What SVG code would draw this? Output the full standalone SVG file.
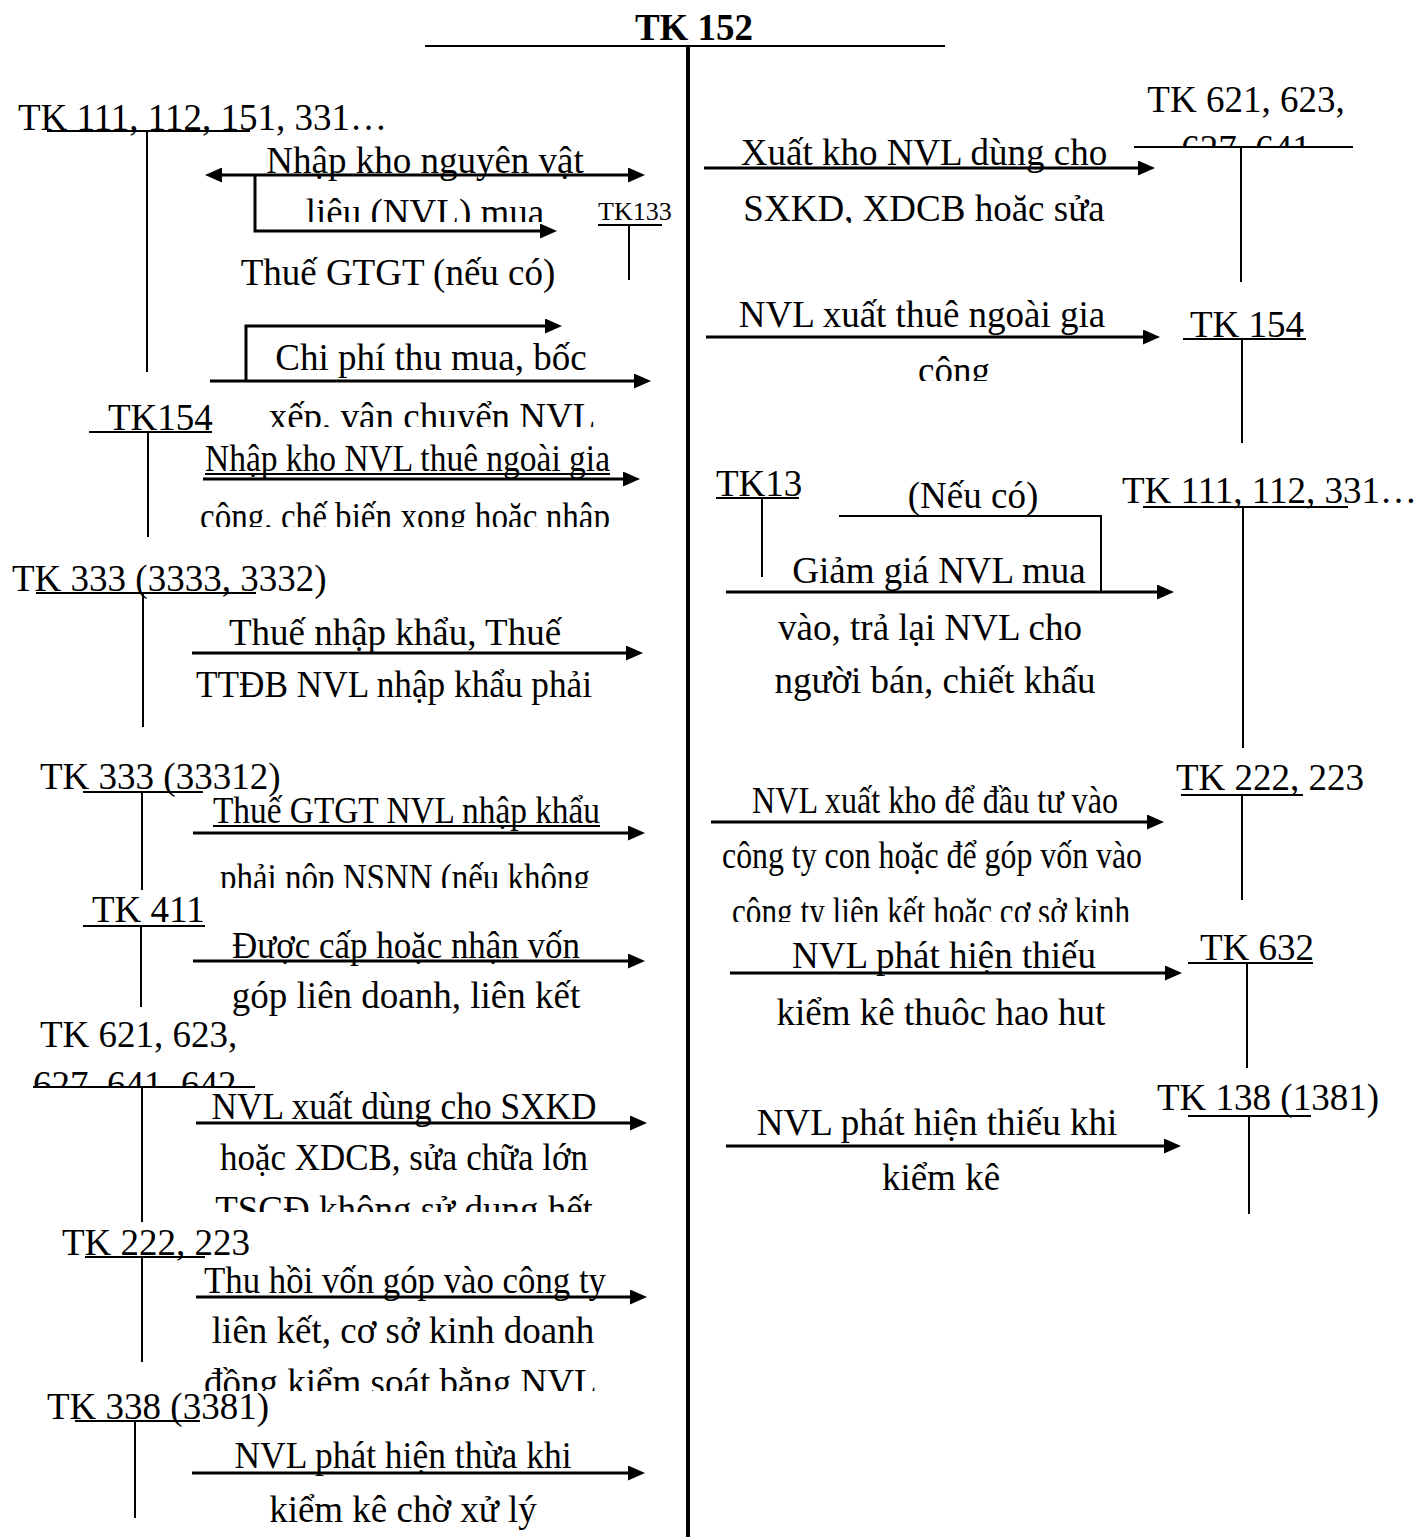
<svg xmlns="http://www.w3.org/2000/svg" width="1419" height="1537" viewBox="0 0 1419 1537">
  <style>
    .t { font-family: "Liberation Serif", "Times New Roman", serif; font-size: 37px; fill: #000; }
    .c { text-anchor: middle; }
    .b { font-weight: bold; }
    .sm { font-size: 26px; }
    .bar { stroke: #000; stroke-width: 2; fill: none; }
    .spine { stroke: #000; stroke-width: 4; fill: none; }
    .arrow { stroke: #000; stroke-width: 3; fill: none; marker-end: url(#ah); }
    .both { marker-start: url(#ah); }
    .thin { stroke: #000; stroke-width: 2; fill: none; }
  </style>
  <defs>
    <marker id="ah" markerUnits="userSpaceOnUse" markerWidth="17" markerHeight="15" refX="3" refY="7.5" orient="auto-start-reverse">
      <path d="M0,0 L17,7.5 L0,15 z" fill="#000"/>
    </marker>
    <!-- text boxes that cut their last line short -->
    <clipPath id="k222"><rect x="0" y="120" width="1419" height="102"/></clipPath>
    <clipPath id="k427"><rect x="0" y="330" width="1419" height="97"/></clipPath>
    <clipPath id="k527"><rect x="0" y="480" width="1419" height="47"/></clipPath>
    <clipPath id="k888"><rect x="0" y="840" width="1419" height="48"/></clipPath>
    <clipPath id="k1087"><rect x="0" y="1055" width="1419" height="32"/></clipPath>
    <clipPath id="k1212"><rect x="0" y="1180" width="1419" height="32"/></clipPath>
    <clipPath id="k1391"><rect x="0" y="1350" width="1419" height="41"/></clipPath>
    <clipPath id="k146"><rect x="0" y="120" width="1419" height="26"/></clipPath>
    <clipPath id="k223"><rect x="0" y="180" width="1419" height="43"/></clipPath>
    <clipPath id="k381"><rect x="0" y="340" width="1419" height="41"/></clipPath>
    <clipPath id="k922"><rect x="0" y="880" width="1419" height="42"/></clipPath>
    <clipPath id="k1027"><rect x="0" y="980" width="1419" height="47"/></clipPath>
  </defs>

  <rect width="1419" height="1537" fill="#fff"/>

  <!-- main account TK 152 -->
  <g id="tk152">
    <text class="t c b" x="694" y="40">TK 152</text>
    <line class="bar" x1="425" y1="46" x2="945" y2="46"/>
    <line class="spine" x1="688" y1="46" x2="688" y2="1537"/>
  </g>

  <!-- debit-side accounts -->
  <g id="tk111-left">
    <text class="t" x="18" y="130">TK 111, 112, 151, 331…</text>
    <line class="bar" x1="47" y1="131" x2="250" y2="131"/>
    <line class="bar" x1="147" y1="131" x2="147" y2="372"/>
  </g>
  <g id="tk133">
    <text class="t sm" x="598" y="220">TK133</text>
    <line class="bar" x1="598" y1="225" x2="662" y2="225"/>
    <line class="bar" x1="629" y1="225" x2="629" y2="280"/>
  </g>
  <g id="tk154-left">
    <text class="t" x="108" y="430">TK154</text>
    <line class="bar" x1="89" y1="432" x2="212" y2="432"/>
    <line class="bar" x1="148" y1="432" x2="148" y2="537"/>
  </g>
  <g id="tk333-a">
    <text class="t" x="12" y="591">TK 333 (3333, 3332)</text>
    <line class="bar" x1="36" y1="593" x2="256" y2="593"/>
    <line class="bar" x1="143" y1="593" x2="143" y2="727"/>
  </g>
  <g id="tk333-b">
    <text class="t" x="40" y="789">TK 333 (33312)</text>
    <line class="bar" x1="83" y1="792" x2="203" y2="792"/>
    <line class="bar" x1="142" y1="792" x2="142" y2="890"/>
  </g>
  <g id="tk411">
    <text class="t" x="92" y="922">TK 411</text>
    <line class="bar" x1="83" y1="926" x2="205" y2="926"/>
    <line class="bar" x1="141" y1="926" x2="141" y2="1007"/>
  </g>
  <g id="tk621-left">
    <text class="t" x="40" y="1047">TK 621, 623,</text>
    <text class="t" x="33" y="1097" clip-path="url(#k1087)">627, 641, 642</text>
    <line class="bar" x1="33" y1="1087" x2="255" y2="1087"/>
    <line class="bar" x1="142" y1="1087" x2="142" y2="1222"/>
  </g>
  <g id="tk222-left">
    <text class="t" x="62" y="1255">TK 222, 223</text>
    <line class="bar" x1="85" y1="1257" x2="205" y2="1257"/>
    <line class="bar" x1="142" y1="1257" x2="142" y2="1362"/>
  </g>
  <g id="tk338">
    <text class="t" x="47" y="1419">TK 338 (3381)</text>
    <line class="bar" x1="75" y1="1421" x2="200" y2="1421"/>
    <line class="bar" x1="135" y1="1421" x2="135" y2="1518"/>
  </g>

  <!-- credit-side accounts -->
  <g id="tk621-right">
    <text class="t c" x="1246" y="112">TK 621, 623,</text>
    <text class="t c" x="1246" y="161" clip-path="url(#k146)">627, 641</text>
    <line class="bar" x1="1134" y1="147" x2="1353" y2="147"/>
    <line class="bar" x1="1241" y1="147" x2="1241" y2="282"/>
  </g>
  <g id="tk154-right">
    <text class="t" x="1190" y="337">TK 154</text>
    <line class="bar" x1="1183" y1="339" x2="1306" y2="339"/>
    <line class="bar" x1="1242" y1="339" x2="1242" y2="443"/>
  </g>
  <g id="tk13">
    <text class="t" x="716" y="496">TK13</text>
    <line class="bar" x1="716" y1="498" x2="799" y2="498"/>
    <line class="bar" x1="762" y1="498" x2="762" y2="577"/>
  </g>
  <g id="tk111-right">
    <text class="t" x="1122" y="503">TK 111, 112, 331…</text>
    <line class="bar" x1="1143" y1="507" x2="1348" y2="507"/>
    <line class="bar" x1="1243" y1="507" x2="1243" y2="748"/>
  </g>
  <g id="tk222-right">
    <text class="t" x="1176" y="790">TK 222, 223</text>
    <line class="bar" x1="1181" y1="795" x2="1303" y2="795"/>
    <line class="bar" x1="1242" y1="795" x2="1242" y2="900"/>
  </g>
  <g id="tk632">
    <text class="t" x="1200" y="960">TK 632</text>
    <line class="bar" x1="1188" y1="963" x2="1313" y2="963"/>
    <line class="bar" x1="1247" y1="963" x2="1247" y2="1068"/>
  </g>
  <g id="tk138">
    <text class="t" x="1157" y="1110">TK 138 (1381)</text>
    <line class="bar" x1="1188" y1="1116" x2="1311" y2="1116"/>
    <line class="bar" x1="1249" y1="1116" x2="1249" y2="1214"/>
  </g>

  <!-- entries -->
  <g id="connectors">
    <line class="arrow both" x1="219" y1="175" x2="631" y2="175"/>
    <polyline class="arrow" points="255,175 255,231 543,231"/>
    <polyline class="arrow" points="246,381 246,326 548,326"/>
    <line class="arrow" x1="210" y1="381" x2="637" y2="381"/>
    <line class="arrow" x1="203" y1="479" x2="626" y2="479"/>
    <line class="arrow" x1="192" y1="653" x2="629" y2="653"/>
    <line class="arrow" x1="193" y1="833" x2="631" y2="833"/>
    <line class="arrow" x1="193" y1="961" x2="631" y2="961"/>
    <line class="arrow" x1="196" y1="1123" x2="633" y2="1123"/>
    <line class="arrow" x1="196" y1="1297" x2="633" y2="1297"/>
    <line class="arrow" x1="192" y1="1473" x2="631" y2="1473"/>

    <line class="arrow" x1="704" y1="168" x2="1141" y2="168"/>
    <line class="arrow" x1="706" y1="337" x2="1146" y2="337"/>
    <polyline class="thin" points="839,516 1101,516 1101,592"/>
    <line class="arrow" x1="726" y1="592" x2="1160" y2="592"/>
    <line class="arrow" x1="711" y1="822" x2="1150" y2="822"/>
    <line class="arrow" x1="730" y1="973" x2="1168" y2="973"/>
    <line class="arrow" x1="726" y1="1146" x2="1167" y2="1146"/>
  </g>

  <!-- entry descriptions -->
  <g id="labels">
    <text class="t c" x="425" y="173">Nhập kho nguyên vật</text>
    <text class="t c" x="425" y="225" clip-path="url(#k222)">liệu (NVL) mua</text>
    <text class="t c" x="398" y="285">Thuế GTGT (nếu có)</text>

    <text class="t c" x="431" y="370">Chi phí thu mua, bốc</text>
    <text class="t c" x="432" y="429" clip-path="url(#k427)">xếp, vận chuyển NVL</text>

    <text class="t" x="205" y="471" textLength="405" lengthAdjust="spacingAndGlyphs">Nhập kho NVL thuê ngoài gia</text>
    <line class="thin" x1="205" y1="474" x2="610" y2="474"/>
    <text class="t" x="200" y="529" textLength="410" lengthAdjust="spacingAndGlyphs" clip-path="url(#k527)">công, chế biến xong hoặc nhập</text>

    <text class="t c" x="395" y="645">Thuế nhập khẩu, Thuế</text>
    <text class="t c" x="394" y="697" textLength="396" lengthAdjust="spacingAndGlyphs">TTĐB NVL nhập khẩu phải</text>

    <text class="t" x="213" y="823" textLength="387" lengthAdjust="spacingAndGlyphs">Thuế GTGT NVL nhập khẩu</text>
    <line class="thin" x1="213" y1="826" x2="600" y2="826"/>
    <text class="t" x="220" y="890" textLength="370" lengthAdjust="spacingAndGlyphs" clip-path="url(#k888)">phải nộp NSNN (nếu không</text>

    <text class="t c" x="406" y="958" textLength="348" lengthAdjust="spacingAndGlyphs">Được cấp hoặc nhận vốn</text>
    <text class="t c" x="406" y="1008">góp liên doanh, liên kết</text>

    <text class="t c" x="404" y="1119" textLength="385" lengthAdjust="spacingAndGlyphs">NVL xuất dùng cho SXKD</text>
    <text class="t c" x="404" y="1170" textLength="368" lengthAdjust="spacingAndGlyphs">hoặc XDCB, sửa chữa lớn</text>
    <text class="t c" x="404" y="1222" clip-path="url(#k1212)">TSCĐ không sử dụng hết</text>

    <text class="t c" x="405" y="1293" textLength="402" lengthAdjust="spacingAndGlyphs">Thu hồi vốn góp vào công ty</text>
    <text class="t c" x="403" y="1343">liên kết, cơ sở kinh doanh</text>
    <text class="t c" x="405" y="1395" clip-path="url(#k1391)">đồng kiểm soát bằng NVL,</text>

    <text class="t c" x="403" y="1468" textLength="337" lengthAdjust="spacingAndGlyphs">NVL phát hiện thừa khi</text>
    <text class="t c" x="403" y="1522">kiểm kê chờ xử lý</text>

    <text class="t c" x="924" y="165">Xuất kho NVL dùng cho</text>
    <text class="t c" x="924" y="221" clip-path="url(#k223)">SXKD, XDCB hoặc sửa</text>

    <text class="t c" x="922" y="327">NVL xuất thuê ngoài gia</text>
    <text class="t c" x="954" y="383" clip-path="url(#k381)">công</text>

    <text class="t c" x="973" y="508">(Nếu có)</text>
    <text class="t c" x="939" y="583">Giảm giá NVL mua</text>
    <text class="t c" x="930" y="640">vào, trả lại NVL cho</text>
    <text class="t c" x="935" y="693">người bán, chiết khấu</text>

    <text class="t" x="752" y="813" textLength="366" lengthAdjust="spacingAndGlyphs">NVL xuất kho để đầu tư vào</text>
    <text class="t" x="722" y="868" textLength="420" lengthAdjust="spacingAndGlyphs">công ty con hoặc để góp vốn vào</text>
    <text class="t" x="732" y="924" textLength="398" lengthAdjust="spacingAndGlyphs" clip-path="url(#k922)">công ty liên kết hoặc cơ sở kinh</text>

    <text class="t c" x="944" y="968">NVL phát hiện thiếu</text>
    <text class="t c" x="941" y="1025" clip-path="url(#k1027)">kiểm kê thuộc hao hụt</text>

    <text class="t c" x="937" y="1135">NVL phát hiện thiếu khi</text>
    <text class="t c" x="941" y="1190">kiểm kê</text>
  </g>
</svg>
